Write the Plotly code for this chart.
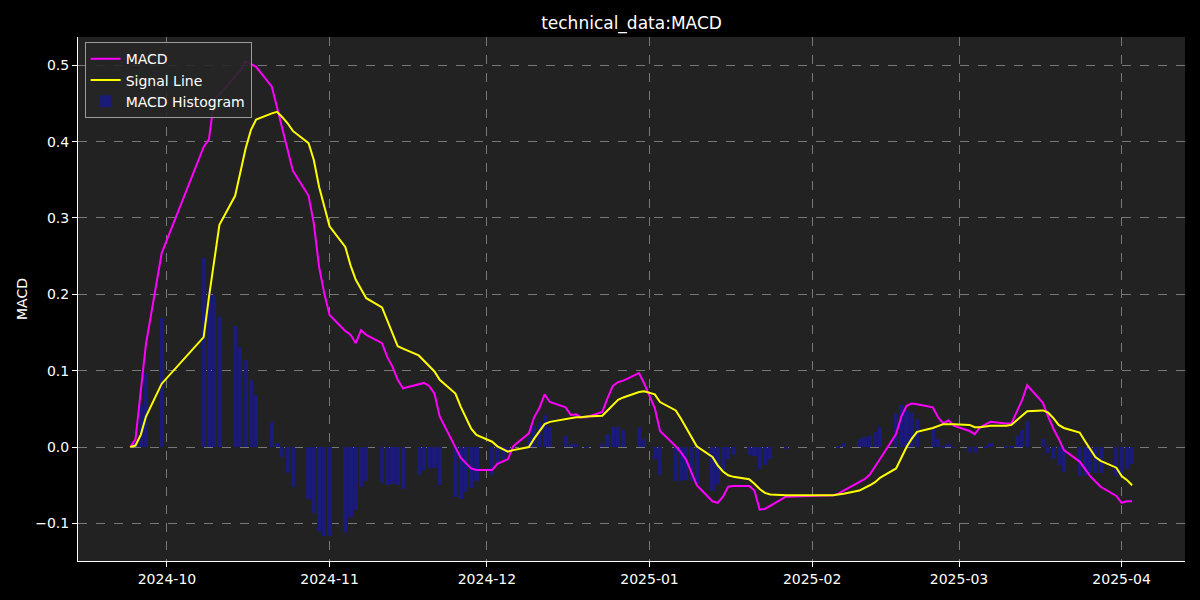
"""MACD chart (technical_data:MACD) rebuilt with Plotly."""

import plotly.graph_objects as go

# trading days (A-share calendar, holidays skipped)
dates = [
    "2024-09-24", "2024-09-25", "2024-09-26", "2024-09-27", "2024-09-30",
    "2024-10-08", "2024-10-09", "2024-10-10", "2024-10-11", "2024-10-14",
    "2024-10-15", "2024-10-16", "2024-10-17", "2024-10-18", "2024-10-21",
    "2024-10-22", "2024-10-23", "2024-10-24", "2024-10-25", "2024-10-28",
    "2024-10-29", "2024-10-30", "2024-10-31", "2024-11-01", "2024-11-04",
    "2024-11-05", "2024-11-06", "2024-11-07", "2024-11-08", "2024-11-11",
    "2024-11-12", "2024-11-13", "2024-11-14", "2024-11-15", "2024-11-18",
    "2024-11-19", "2024-11-20", "2024-11-21", "2024-11-22", "2024-11-25",
    "2024-11-26", "2024-11-27", "2024-11-28", "2024-11-29", "2024-12-02",
    "2024-12-03", "2024-12-04", "2024-12-05", "2024-12-06", "2024-12-09",
    "2024-12-10", "2024-12-11", "2024-12-12", "2024-12-13", "2024-12-16",
    "2024-12-17", "2024-12-18", "2024-12-19", "2024-12-20", "2024-12-23",
    "2024-12-24", "2024-12-25", "2024-12-26", "2024-12-27", "2024-12-30",
    "2024-12-31", "2025-01-02", "2025-01-03", "2025-01-06", "2025-01-07",
    "2025-01-08", "2025-01-09", "2025-01-10", "2025-01-13", "2025-01-14",
    "2025-01-15", "2025-01-16", "2025-01-17", "2025-01-20", "2025-01-21",
    "2025-01-22", "2025-01-23", "2025-01-24", "2025-01-27", "2025-02-05",
    "2025-02-06", "2025-02-07", "2025-02-10", "2025-02-11", "2025-02-12",
    "2025-02-13", "2025-02-14", "2025-02-17", "2025-02-18", "2025-02-19",
    "2025-02-20", "2025-02-21", "2025-02-24", "2025-02-25", "2025-02-26",
    "2025-02-27", "2025-02-28", "2025-03-03", "2025-03-04", "2025-03-05",
    "2025-03-06", "2025-03-07", "2025-03-10", "2025-03-11", "2025-03-12",
    "2025-03-13", "2025-03-14", "2025-03-17", "2025-03-18", "2025-03-19",
    "2025-03-20", "2025-03-21", "2025-03-24", "2025-03-25", "2025-03-26",
    "2025-03-27", "2025-03-28", "2025-03-31", "2025-04-01", "2025-04-02",
    "2025-04-03",
]

macd = [
    0.000, 0.010, 0.073, 0.135, 0.254,
    0.393, 0.403, 0.454, 0.462, 0.485,
    0.493, 0.505, 0.501, 0.498, 0.472,
    0.444, 0.419, 0.390, 0.362, 0.329,
    0.293, 0.236, 0.201, 0.173, 0.152,
    0.147, 0.136, 0.153, 0.147, 0.136,
    0.118, 0.105, 0.088, 0.077, 0.083,
    0.084, 0.080, 0.070, 0.040, 0.000,
    -0.014, -0.021, -0.028, -0.030, -0.030,
    -0.022, -0.019, -0.016, 0.001, 0.018,
    0.039, 0.051, 0.069, 0.059, 0.052,
    0.042, 0.043, 0.039, 0.039, 0.046,
    0.064, 0.080, 0.085, 0.087, 0.097,
    0.083, 0.051, 0.021, 0.001, -0.007,
    -0.017, -0.034, -0.050, -0.071, -0.073,
    -0.065, -0.052, -0.051, -0.051, -0.057,
    -0.082, -0.081, -0.077, -0.065, -0.063,
    -0.061, -0.057, -0.046, -0.042, -0.036,
    -0.026, -0.015, 0.017, 0.040, 0.054,
    0.057, 0.056, 0.052, 0.039, 0.031,
    0.035, 0.028, 0.021, 0.017, 0.026,
    0.029, 0.033, 0.031, 0.031, 0.046,
    0.061, 0.081, 0.058, 0.040, 0.024,
    0.011, -0.004, -0.019, -0.028, -0.038,
    -0.045, -0.052, -0.064, -0.073, -0.071,
    -0.071,
]

signal = [
    0.000, 0.002, 0.016, 0.040, 0.083,
    0.144, 0.196, 0.245, 0.291, 0.329,
    0.360, 0.391, 0.415, 0.429, 0.437,
    0.439, 0.432, 0.424, 0.414, 0.398,
    0.376, 0.341, 0.315, 0.289, 0.262,
    0.238, 0.219, 0.206, 0.195, 0.183,
    0.166, 0.149, 0.132, 0.129, 0.120,
    0.113, 0.106, 0.099, 0.088, 0.070,
    0.053, 0.038, 0.024, 0.016, 0.007,
    0.001, -0.003, -0.006, -0.004, 0.000,
    0.011, 0.020, 0.030, 0.033, 0.037,
    0.038, 0.039, 0.039, 0.040, 0.041,
    0.048, 0.055, 0.062, 0.065, 0.072,
    0.073, 0.069, 0.059, 0.048, 0.037,
    0.025, 0.013, 0.001, -0.013, -0.024,
    -0.032, -0.037, -0.039, -0.042, -0.048,
    -0.055, -0.060, -0.062, -0.063, -0.063,
    -0.062, -0.061, -0.057, -0.054, -0.050,
    -0.046, -0.040, -0.028, -0.014, 0.000,
    0.011, 0.020, 0.025, 0.028, 0.030,
    0.030, 0.030, 0.029, 0.026, 0.026,
    0.027, 0.028, 0.028, 0.029, 0.035,
    0.041, 0.047, 0.048, 0.045, 0.038,
    0.029, 0.025, 0.019, 0.008, -0.003,
    -0.013, -0.018, -0.027, -0.038, -0.043,
    -0.050,
]

hist = [
    0.000, 0.008, 0.055, 0.097, 0.169,
    0.247, 0.205, 0.199, 0.170, 0.158,
    0.131, 0.114, 0.088, 0.068, 0.033,
    0.005, -0.013, -0.034, -0.052, -0.068,
    -0.086, -0.110, -0.117, -0.117, -0.111,
    -0.091, -0.083, -0.052, -0.044, -0.047,
    -0.050, -0.049, -0.050, -0.055, -0.037,
    -0.030, -0.028, -0.028, -0.050, -0.066,
    -0.068, -0.059, -0.053, -0.044, -0.037,
    -0.022, -0.015, -0.008, 0.002, 0.013,
    0.027, 0.033, 0.042, 0.026, 0.014,
    0.004, 0.004, 0.000, -0.001, 0.004,
    0.017, 0.026, 0.026, 0.022, 0.026,
    0.010, -0.016, -0.037, -0.045, -0.044,
    -0.043, -0.045, -0.048, -0.058, -0.048,
    -0.030, -0.015, -0.010, -0.010, -0.012,
    -0.029, -0.023, -0.016, -0.002, 0.000,
    0.002, 0.005, 0.010, 0.013, 0.015,
    0.020, 0.026, 0.044, 0.055, 0.049,
    0.044, 0.037, 0.024, 0.010, 0.001,
    0.004, -0.001, -0.006, -0.008, 0.000,
    0.001, 0.005, 0.002, 0.001, 0.015,
    0.023, 0.034, 0.010, -0.008, -0.016,
    -0.024, -0.032, -0.038, -0.038, -0.034,
    -0.034, -0.034, -0.038, -0.035, -0.029,
    -0.022,
]

month_ticks = ["2024-10-01", "2024-11-01", "2024-12-01", "2025-01-01",
               "2025-02-01", "2025-03-01", "2025-04-01"]
y_ticks = [-0.1, 0.0, 0.1, 0.2, 0.3, 0.4, 0.5]

FONT = "DejaVu Sans"
GRID = "rgba(150,150,150,0.75)"

fig = go.Figure()

# histogram first so it stays under the lines
fig.add_trace(
    go.Bar(
        x=dates,
        y=hist,
        name="MACD Histogram",
        marker_color="#1a1a78",
        marker_line_width=0,
        width=0.8 * 86400000,
        legendrank=3,
    )
)
fig.add_trace(
    go.Scatter(
        x=dates, y=macd, mode="lines", name="MACD",
        line=dict(color="#ff00ff", width=2), legendrank=1,
    )
)
fig.add_trace(
    go.Scatter(
        x=dates, y=signal, mode="lines", name="Signal Line",
        line=dict(color="#ffff00", width=2), legendrank=2,
    )
)

fig.update_layout(
    width=1200,
    height=600,
    paper_bgcolor="#000000",
    plot_bgcolor="#222222",
    font=dict(family=FONT, color="#ffffff", size=14),
    margin=dict(l=78, r=15, t=37, b=39),
    title=dict(
        text="technical_data:MACD",
        x=0.5, xref="paper", xanchor="center",
        y=1 - 23 / 600, yref="container", yanchor="middle",
        font=dict(size=17, color="#ffffff"),
    ),
    showlegend=True,
    legend=dict(
        x=0.006, y=0.99, xanchor="left", yanchor="top",
        bgcolor="rgba(38,38,38,0.9)",
        bordercolor="#9a9a9a", borderwidth=1,
        font=dict(size=14, color="#ffffff"),
        tracegroupgap=0,
    ),
    bargap=0,
)

fig.update_xaxes(
    type="date",
    range=["2024-09-14 01:00", "2025-04-13 02:00"],
    tickvals=month_ticks,
    tickformat="%Y-%m",
    ticks="outside", ticklen=5, tickcolor="#ffffff",
    showline=True, linecolor="#ffffff", linewidth=1,
    showgrid=True, gridcolor=GRID, griddash="dash", gridwidth=1,
    zeroline=False,
)
fig.update_yaxes(
    range=[-0.1492, 0.537],
    tickvals=y_ticks,
    tickformat=".1f",
    ticks="outside", ticklen=5, tickcolor="#ffffff",
    showline=True, linecolor="#ffffff", linewidth=1,
    showgrid=True, gridcolor=GRID, griddash="dash", gridwidth=1,
    zeroline=False,
    title=dict(text="MACD", standoff=4, font=dict(size=14)),
)

# drop the default page margin so the figure sits at the window's corner
fig.write_html(
    "out.html",
    config={"displayModeBar": False},
    post_script="document.body.style.margin='0';"
    "document.body.style.background='#000';",
)
